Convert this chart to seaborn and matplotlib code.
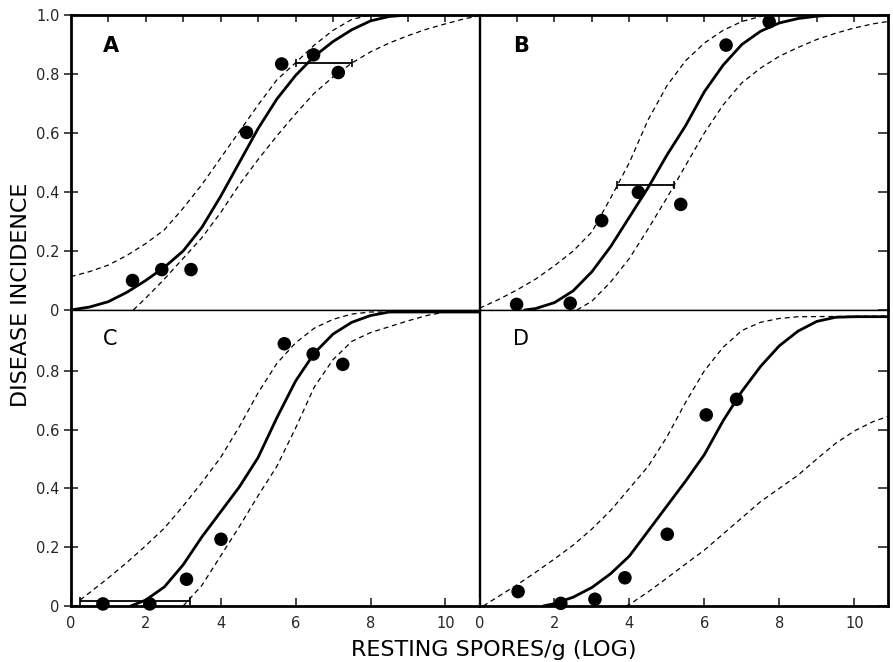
import matplotlib
matplotlib.use("Agg")
import matplotlib.pyplot as plt
import numpy as np
import pandas as pd
import seaborn as sns

# ---------------- data ----------------
# Panel A
A_pts_x = [1.65, 2.43, 3.21, 4.69, 5.63, 6.48, 7.14]
A_pts_y = [0.10, 0.137, 0.137, 0.602, 0.834, 0.865, 0.805]
A_fit_x = [0, 0.5, 1, 1.5, 2, 2.5, 3, 3.5, 4, 4.5, 5, 5.5, 6, 6.5, 7, 7.5, 8, 8.5, 9, 10.9]
A_fit_y = [0, 0.01, 0.028, 0.06, 0.10, 0.145, 0.20, 0.28, 0.385, 0.50, 0.615, 0.715, 0.795, 0.86, 0.91, 0.95, 0.98, 0.995, 1.0, 1.0]
A_up_x = [0, 0.5, 1, 1.5, 2, 2.5, 3, 3.5, 4, 4.5, 5, 5.5, 6, 6.5, 7, 7.5, 8, 10.9]
A_up_y = [0.113, 0.13, 0.152, 0.185, 0.225, 0.272, 0.345, 0.425, 0.515, 0.605, 0.695, 0.78, 0.838, 0.898, 0.948, 0.985, 1.0, 1.0]
A_lo_x = [1.67, 2, 2.5, 3, 3.5, 4, 4.5, 5, 5.5, 6, 6.5, 7, 7.5, 8, 8.5, 9, 9.5, 10, 10.5, 10.9]
A_lo_y = [0, 0.04, 0.105, 0.175, 0.245, 0.33, 0.425, 0.51, 0.59, 0.665, 0.735, 0.79, 0.837, 0.875, 0.905, 0.93, 0.952, 0.97, 0.987, 0.997]
A_bar = [6.0, 7.51, 0.838]

# Panel B
B_pts_x = [0.99, 2.42, 3.26, 4.24, 5.37, 6.58, 7.73]
B_pts_y = [0.019, 0.023, 0.303, 0.399, 0.358, 0.898, 0.977]
B_fit_x = [1.2, 1.5, 2, 2.5, 3, 3.5, 4, 4.5, 5, 5.5, 6, 6.5, 7, 7.5, 8, 8.5, 9, 9.5, 10.9]
B_fit_y = [0, 0.005, 0.025, 0.065, 0.13, 0.215, 0.315, 0.415, 0.525, 0.625, 0.74, 0.83, 0.90, 0.945, 0.973, 0.988, 0.996, 1.0, 1.0]
B_up_x = [0, 0.5, 1, 1.5, 2, 2.5, 3, 3.5, 4, 4.5, 5, 5.5, 6, 6.5, 7, 7.5, 8, 10.9]
B_up_y = [0.006, 0.035, 0.068, 0.105, 0.15, 0.2, 0.265, 0.38, 0.50, 0.645, 0.76, 0.845, 0.905, 0.948, 0.978, 0.995, 1.0, 1.0]
B_lo_x = [2.6, 3, 3.5, 4, 4.5, 5, 5.5, 6, 6.5, 7, 7.5, 8, 8.5, 9, 9.5, 10, 10.5, 10.9]
B_lo_y = [0, 0.03, 0.095, 0.175, 0.275, 0.38, 0.49, 0.60, 0.695, 0.77, 0.82, 0.86, 0.89, 0.917, 0.938, 0.956, 0.97, 0.978]
B_bar = [3.66, 5.19, 0.424]

# Panel C
C_pts_x = [0.86, 2.11, 3.09, 4.01, 5.70, 6.47, 7.26]
C_pts_y = [0.007, 0.007, 0.091, 0.227, 0.892, 0.857, 0.822]
C_fit_x = [1.6, 2, 2.5, 3, 3.5, 4, 4.5, 5, 5.5, 6, 6.5, 7, 7.5, 8, 8.5, 10.9]
C_fit_y = [0, 0.02, 0.065, 0.14, 0.235, 0.32, 0.405, 0.505, 0.64, 0.765, 0.86, 0.925, 0.965, 0.988, 1.0, 1.0]
C_up_x = [0.25, 0.5, 1, 1.5, 2, 2.5, 3, 3.5, 4, 4.5, 5, 5.5, 6, 6.5, 7, 7.5, 8, 10.9]
C_up_y = [0.02, 0.045, 0.095, 0.148, 0.205, 0.265, 0.34, 0.42, 0.505, 0.61, 0.725, 0.825, 0.895, 0.945, 0.975, 0.993, 1.0, 1.0]
C_lo_x = [3.0, 3.5, 4, 4.5, 5, 5.5, 6, 6.5, 7, 7.5, 8, 8.5, 9, 9.5, 10, 10.9]
C_lo_y = [0, 0.07, 0.17, 0.27, 0.375, 0.475, 0.605, 0.745, 0.838, 0.9, 0.93, 0.95, 0.97, 0.988, 1.0, 1.0]
C_bar = [0.24, 3.18, 0.017]

# Panel D
D_pts_x = [1.03, 2.17, 3.08, 3.88, 5.01, 6.05, 6.86]
D_pts_y = [0.049, 0.009, 0.023, 0.096, 0.244, 0.65, 0.703]
D_fit_x = [1.7, 2, 2.5, 3, 3.5, 4, 4.5, 5, 5.5, 6, 6.5, 7, 7.5, 8, 8.5, 9, 9.5, 10, 10.9]
D_fit_y = [0, 0.008, 0.03, 0.063, 0.11, 0.17, 0.255, 0.34, 0.425, 0.515, 0.63, 0.73, 0.815, 0.885, 0.935, 0.968, 0.982, 0.984, 0.984]
D_up_x = [0.1, 0.5, 1, 1.5, 2, 2.5, 3, 3.5, 4, 4.5, 5, 5.5, 6, 6.5, 7, 7.5, 8, 8.5, 10.9]
D_up_y = [0, 0.032, 0.072, 0.115, 0.16, 0.207, 0.262, 0.325, 0.40, 0.475, 0.575, 0.693, 0.80, 0.88, 0.937, 0.965, 0.978, 0.984, 0.986]
D_lo_x = [3.9, 4, 4.5, 5, 5.5, 6, 6.5, 7, 7.5, 8, 8.5, 9, 9.5, 10, 10.5, 10.9]
D_lo_y = [0, 0.005, 0.048, 0.095, 0.143, 0.19, 0.245, 0.30, 0.355, 0.40, 0.445, 0.50, 0.553, 0.595, 0.627, 0.645]
D_bar = None

panel_labels = ["A", "B", "C", "D"]
x_ticks_minor = [1, 2, 3, 4, 5, 6, 7, 8, 9, 10]
x_ticks_major = [0, 2, 4, 6, 8, 10]
x_tick_labels = ["0", "2", "4", "6", "8", "10"]
y_ticks_top = [0, 0.2, 0.4, 0.6, 0.8, 1.0]
y_tick_labels_top = ["0", "0.2", "0.4", "0.6", "0.8", "1.0"]
y_ticks_bot = [0, 0.2, 0.4, 0.6, 0.8]
y_tick_labels_bot = ["0", "0.2", "0.4", "0.6", "0.8"]
x_label = "RESTING SPORES/g (LOG)"
y_label = "DISEASE INCIDENCE"

# ---------------- drawing ----------------
sns.set_style("white")
plt.rcParams["font.family"] = ["DejaVu Sans"]

W, H = 893, 662
fig = plt.figure(figsize=(W / 100, H / 100), dpi=100)

xl, xr = 70.7, 479.5
wpx = 408.5
ytop, ymid, ybot = 15, 310, 606

def fr(x0, y_top_px, w, h):
    return [x0 / W, (H - y_top_px - h) / H, w / W, h / H]

axA = fig.add_axes(fr(xl, ytop, wpx, ymid - ytop))
axB = fig.add_axes(fr(xr, ytop, wpx, ymid - ytop))
axC = fig.add_axes(fr(xl, ymid, wpx, ybot - ymid))
axD = fig.add_axes(fr(xr, ymid, wpx, ybot - ymid))

panels = [
    (axA, A_pts_x, A_pts_y, A_fit_x, A_fit_y, A_up_x, A_up_y, A_lo_x, A_lo_y, A_bar),
    (axB, B_pts_x, B_pts_y, B_fit_x, B_fit_y, B_up_x, B_up_y, B_lo_x, B_lo_y, B_bar),
    (axC, C_pts_x, C_pts_y, C_fit_x, C_fit_y, C_up_x, C_up_y, C_lo_x, C_lo_y, C_bar),
    (axD, D_pts_x, D_pts_y, D_fit_x, D_fit_y, D_up_x, D_up_y, D_lo_x, D_lo_y, D_bar),
]

for i, (ax, px, py, fx, fy, ux, uy, lx, ly, bar) in enumerate(panels):
    top = i < 2
    left = i % 2 == 0
    ax.set_facecolor("white")
    ax.set_xlim(0, 10.9)
    ax.set_ylim(0, 1.0 if top else (ybot - ymid) / 294.0)

    for cx, cy, ls, lw in [(ux, uy, (0, (4, 3)), 0.9), (lx, ly, (0, (4, 3)), 0.9),
                           (fx, fy, "-", 2.0)]:
        d = pd.DataFrame({"x": cx, "y": cy})
        sns.lineplot(data=d, x="x", y="y", ax=ax, color="black", linewidth=lw,
                     linestyle=ls, estimator=None, sort=False, legend=False)

    if bar is not None:
        lo, hi, by = bar
        mid = (lo + hi) / 2
        ax.errorbar([mid], [by], xerr=[[mid - lo], [hi - mid]], fmt="none",
                    ecolor="black", elinewidth=1.3, capsize=3, capthick=1.2)

    dp = pd.DataFrame({"x": px, "y": py})
    sns.scatterplot(data=dp, x="x", y="y", ax=ax, color="black", s=95,
                    edgecolor="none", linewidth=0, clip_on=False, zorder=5, legend=False)

    ax.set_xlabel("")
    ax.set_ylabel("")

    for s in ax.spines.values():
        s.set_visible(True)
        s.set_color("black")
        s.set_linewidth(1.0)
    ax.spines["top" if top else "bottom"].set_linewidth(2.0)
    ax.spines["left" if left else "right"].set_linewidth(2.0)

    if top:
        ax.xaxis.set_ticks_position("top")
        ax.set_xticks(x_ticks_minor)
        ax.set_xticklabels([])
        ax.tick_params(axis="x", direction="in", length=5, width=1.2, top=True, bottom=False)
    else:
        ax.xaxis.set_ticks_position("bottom")
        ax.set_xticks(x_ticks_major)
        ax.set_xticklabels(x_tick_labels)
        ax.tick_params(axis="x", direction="in", length=6, width=1.2, pad=7,
                       labelsize=10.5, bottom=True, top=False)

    yt = y_ticks_top if top else y_ticks_bot
    ytl = y_tick_labels_top if top else y_tick_labels_bot
    if left:
        ax.yaxis.set_ticks_position("left")
        ax.set_yticks(yt)
        ax.set_yticklabels(ytl)
        ax.tick_params(axis="y", direction="inout", length=10, width=1.2, pad=3,
                       labelsize=10.5, left=True, right=False)
    else:
        ax.yaxis.set_ticks_position("right")
        ax.set_yticks(yt)
        ax.set_yticklabels([])
        ax.tick_params(axis="y", direction="in", length=7, width=1.2, right=True, left=False)

    ax.text(0.079 if left else 0.083, 0.895 if top else 0.903, panel_labels[i],
            transform=ax.transAxes, ha="left", va="center", fontsize=15,
            fontweight="bold" if top else "normal", color="black")

fig.text(21 / W, 1 - 295 / H, y_label, rotation=90, ha="center", va="center",
         fontsize=16, color="black")
fig.text(494 / W, 1 - 650 / H, x_label, ha="center", va="center",
         fontsize=16, color="black")

fig.savefig("out.png", dpi=100, facecolor="white")
